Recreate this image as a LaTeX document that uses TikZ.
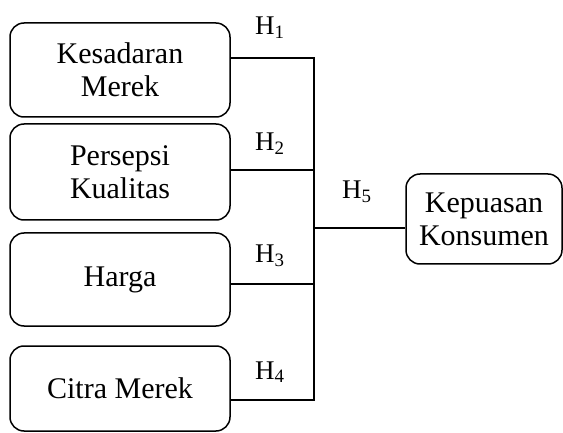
\documentclass[tikz,border=0pt]{standalone}
\usepackage{fontspec}
\setmainfont{Liberation Serif}
\begin{document}
\begin{tikzpicture}[x=1pt,y=-1pt,
  varbox/.style={draw,line width=1.5pt,rounded corners=14pt,align=center,inner sep=0pt,
     font=\fontsize{30}{33}\selectfont},
  hlabel/.style={anchor=base west,inner sep=0pt,font=\fontsize{27}{29}\selectfont},
  link/.style={line width=1.4pt}]
\useasboundingbox (0,0) rectangle (563,433);
\node[varbox,minimum width=220pt,minimum height=94pt] (b1) at (120,70) {Kesadaran\\Merek};
\node[varbox,minimum width=220pt,minimum height=96pt] (b2) at (120,172) {Persepsi\\Kualitas};
\node[varbox,minimum width=220pt,minimum height=93pt] (b3) at (120,279.5) {Harga};
\node[varbox,minimum width=220pt,minimum height=85pt] (b4) at (120,388.5) {Citra Merek};
\node[varbox,minimum width=156pt,minimum height=90pt] (kp) at (484,219) {Kepuasan\\Konsumen};
\coordinate (j1) at (314,58);
\coordinate (j2) at (314,170);
\coordinate (j5) at (314,228);
\coordinate (j3) at (314,284);
\coordinate (j4) at (314,400);
\draw[link] (b1.east |- j1) -- (j1) -- (j4) -- (b4.east |- j4);
\draw[link] (b2.east |- j2) -- (j2);
\draw[link] (b3.east |- j3) -- (j3);
\draw[link] (j5) -- (kp.west |- j5);
\node[hlabel] (h1) at (255,35) {H\textsubscript{1}};
\node[hlabel] (h2) at (255,151) {H\textsubscript{2}};
\node[hlabel] (h3) at (255,263) {H\textsubscript{3}};
\node[hlabel] (h4) at (255,379) {H\textsubscript{4}};
\node[hlabel] (h5) at (342,199) {H\textsubscript{5}};
\end{tikzpicture}
\end{document}
